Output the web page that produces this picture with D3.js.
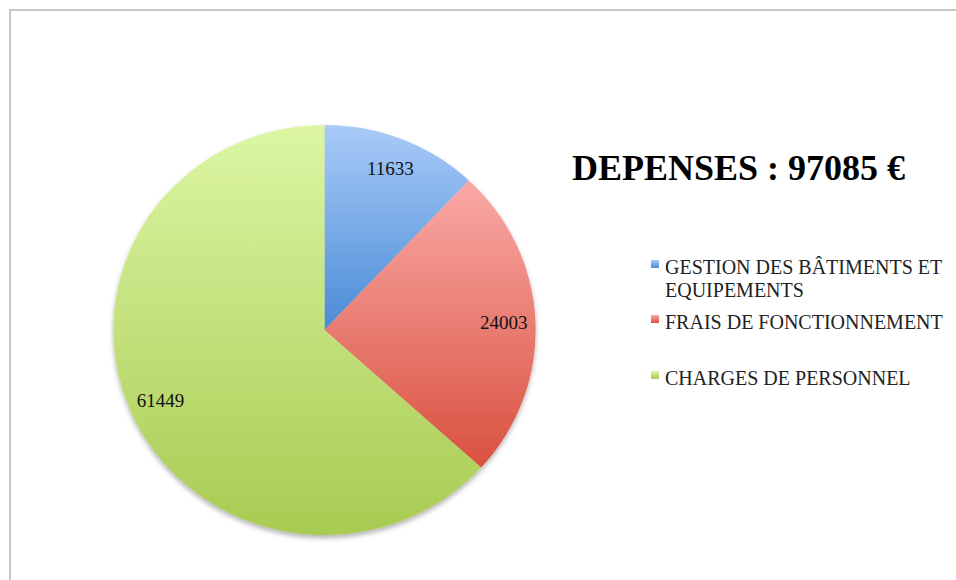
<!DOCTYPE html>
<html>
  <head>
    <meta charset="utf-8" />
    <title>Dépenses</title>
    <script src="https://d3js.org/d3.v7.min.js"></script>
    <style>
      body { margin: 0; background: #fff; }
      text { font-family: "Liberation Serif", "Times New Roman", serif; }
    </style>
  </head>
  <body>
    <svg width="956" height="580" id="chart"></svg>

    <script>
      // chart data
      var categories = ["GESTION DES BÂTIMENTS ET EQUIPEMENTS", "FRAIS DE FONCTIONNEMENT", "CHARGES DE PERSONNEL"];
      var values = [11633, 24003, 61449];
      var legendLines = [["GESTION DES BÂTIMENTS ET", "EQUIPEMENTS"], ["FRAIS DE FONCTIONNEMENT"], ["CHARGES DE PERSONNEL"]];
      var title = "DEPENSES : 97085 €";

      // gradient stops for each slice (top, bottom)
      var colorsTop = ["#a8cbf8", "#faa9a6", "#dcf6a4"];
      var colorsBottom = ["#4a8bd6", "#d9513f", "#a8cb52"];

      var svg = d3.select("#chart");
      var defs = svg.append("defs");

      colorsTop.forEach(function(c, i){
        var g = defs.append("linearGradient")
          .attr("id", "grad" + i)
          .attr("x1", 0).attr("y1", 0).attr("x2", 0).attr("y2", 1);
        g.append("stop").attr("offset", "0%").attr("stop-color", c);
        g.append("stop").attr("offset", "100%").attr("stop-color", colorsBottom[i]);
      });

      var shadow = defs.append("filter").attr("id", "shadow")
        .attr("x", "-10%").attr("y", "-10%").attr("width", "120%").attr("height", "120%");
      shadow.append("feDropShadow")
        .attr("dx", 0).attr("dy", 3).attr("stdDeviation", 2.5)
        .attr("flood-color", "#000").attr("flood-opacity", 0.3);

      // frame
      svg.append("rect")
        .attr("x", 10).attr("y", 10)
        .attr("width", 980).attr("height", 620)
        .attr("fill", "none")
        .attr("stroke", "#c6c6c6")
        .attr("stroke-width", 2);

      var cx = 324.5, cy = 330, R = 205, sx = 1.03;

      var pie = d3.pie().sort(null).value(function(d){ return d; });
      var arcs = pie(values);
      var arc = d3.arc().innerRadius(0).outerRadius(R);
      var labelArc = d3.arc().innerRadius(R * 0.85).outerRadius(R * 0.85);

      var pieG = svg.append("g")
        .attr("transform", "translate(" + cx + "," + cy + ") scale(" + sx + ",1)");

      var slicesG = pieG.append("g").attr("filter", "url(#shadow)");
      slicesG.selectAll("path")
        .data(arcs)
        .enter().append("path")
        .attr("d", arc)
        .attr("fill", function(d, i){ return "url(#grad" + i + ")"; });

      // value labels
      svg.append("g")
        .attr("transform", "translate(" + cx + "," + cy + ")")
        .selectAll("text")
        .data(arcs)
        .enter().append("text")
        .attr("x", function(d){ return labelArc.centroid(d)[0] * sx; })
        .attr("y", function(d){ return labelArc.centroid(d)[1]; })
        .attr("dy", "0.35em")
        .attr("text-anchor", "middle")
        .attr("font-size", 19)
        .attr("fill", "#111")
        .text(function(d){ return d.data; });

      // title
      svg.append("text")
        .attr("x", 572).attr("y", 180)
        .attr("font-size", 36)
        .attr("font-weight", "bold")
        .attr("fill", "#000")
        .text(title);

      // legend
      var legendY = [274, 329, 385];
      var legend = svg.append("g").selectAll("g")
        .data(categories)
        .enter().append("g")
        .attr("transform", function(d, i){ return "translate(651," + legendY[i] + ")"; });

      legend.append("rect")
        .attr("x", 0).attr("y", -14)
        .attr("width", 8).attr("height", 8)
        .attr("fill", function(d, i){ return "url(#grad" + i + ")"; });

      legend.append("text")
        .attr("x", 14)
        .attr("font-size", 20)
        .attr("fill", "#222")
        .selectAll("tspan")
        .data(function(d, i){ return legendLines[i]; })
        .enter().append("tspan")
        .attr("x", 14)
        .attr("dy", function(d, j){ return j === 0 ? 0 : 23; })
        .text(function(d){ return d; });
    </script>
  </body>
</html>
